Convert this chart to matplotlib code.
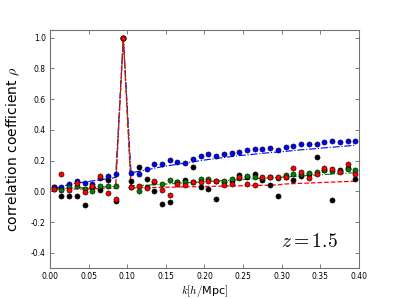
import numpy as np
import matplotlib
matplotlib.use('Agg')
import matplotlib.pyplot as plt

plt.rcParams['mathtext.fontset'] = 'cm'
plt.rcParams['axes.unicode_minus'] = False

# k bins (centres), h/Mpc
k = np.arange(40) * 0.01 + 0.005

# measured correlation coefficients
rho_black = [0.03, -0.032, -0.028, -0.028, -0.088, 0.03, 0.006, 0.076, -0.06, 1.0,
             0.067, 0.158, 0.082, 0.0, -0.082, -0.067, 0.06, 0.074, 0.158, 0.026,
             0.015, -0.049, 0.06, 0.07, 0.104, 0.09, 0.112, 0.076, 0.039, -0.032,
             0.09, 0.071, 0.102, 0.11, 0.225, 0.14, -0.054, 0.138, 0.15, 0.08]
rho_blue = [0.025, 0.025, 0.048, 0.067, 0.056, 0.05, 0.089, 0.102, 0.11, 1.0,
            0.121, 0.112, 0.145, 0.177, 0.177, 0.203, 0.194, 0.184, 0.21, 0.227,
            0.24, 0.232, 0.24, 0.25, 0.258, 0.27, 0.275, 0.275, 0.281, 0.272,
            0.287, 0.298, 0.305, 0.309, 0.309, 0.32, 0.326, 0.32, 0.33, 0.33]
rho_green = [0.015, 0.006, 0.026, 0.035, 0.017, 0.0, 0.032, 0.032, 0.037, 1.0,
             0.03, 0.005, 0.03, 0.06, 0.05, 0.074, 0.058, 0.06, 0.058, 0.08,
             0.078, 0.07, 0.069, 0.08, 0.087, 0.1, 0.091, 0.088, 0.09, 0.088,
             0.104, 0.112, 0.11, 0.121, 0.125, 0.136, 0.13, 0.13, 0.143, 0.14]
rho_red = [0.015, 0.11, 0.006, 0.056, -0.004, 0.037, 0.102, -0.008, -0.047, 1.0,
           0.026, 0.032, 0.02, 0.067, 0.006, -0.021, 0.05, 0.041, 0.058, 0.058,
           0.065, 0.065, 0.041, 0.05, 0.093, 0.05, 0.043, 0.093, 0.093, 0.093,
           0.095, 0.151, 0.128, 0.084, 0.113, 0.151, 0.143, 0.126, 0.175, 0.115]

# model curves
model_blue = [0.02, 0.03, 0.045, 0.055, 0.06, 0.068, 0.075, 0.082, 0.09, 1.0,
              0.12, 0.13, 0.14, 0.15, 0.16, 0.168, 0.176, 0.184, 0.192, 0.2,
              0.207, 0.213, 0.22, 0.226, 0.232, 0.237, 0.242, 0.247, 0.252, 0.256,
              0.26, 0.265, 0.27, 0.274, 0.278, 0.283, 0.287, 0.291, 0.295, 0.3]
model_green = [0.015, 0.018, 0.02, 0.022, 0.024, 0.026, 0.028, 0.03, 0.032, 1.0,
               0.036, 0.038, 0.04, 0.043, 0.046, 0.049, 0.052, 0.055, 0.058, 0.061,
               0.064, 0.067, 0.07, 0.073, 0.076, 0.079, 0.082, 0.085, 0.088, 0.091,
               0.094, 0.097, 0.1, 0.103, 0.106, 0.109, 0.112, 0.115, 0.118, 0.121]
model_red = [0.012, 0.013, 0.014, 0.015, 0.016, 0.017, 0.018, 0.019, 0.02, 1.0,
             0.022, 0.023, 0.024, 0.025, 0.026, 0.027, 0.028, 0.029, 0.03, 0.031,
             0.032, 0.033, 0.034, 0.035, 0.036, 0.037, 0.038, 0.039, 0.04, 0.042,
             0.048, 0.05, 0.052, 0.054, 0.056, 0.058, 0.06, 0.062, 0.064, 0.066]

fig, ax = plt.subplots(figsize=(3.99, 2.99), dpi=100)
fig.subplots_adjust(left=0.125, right=0.9, bottom=0.103, top=0.9)

ax.plot(k, model_blue, '-.', color='b', lw=0.8, zorder=1)
ax.plot(k, model_green, '-.', color='g', lw=0.8, zorder=1)
ax.plot(k, model_red, '--', color='r', lw=0.9, zorder=1)

for vals, c in [(rho_black, 'k'), (rho_blue, 'b'), (rho_green, 'g'), (rho_red, 'r')]:
    ax.plot(k, vals, 'o', color=c, ms=3.7, mec='k', mew=0.4, zorder=2)

ax.set_xlim(0, 0.4)
ax.set_ylim(-0.5, 1.05)
ax.set_xticks(np.arange(0, 0.41, 0.05))
ax.set_yticks(np.arange(-0.4, 1.01, 0.2))
ax.set_xticklabels(['%.2f' % t for t in np.arange(0, 0.41, 0.05)])
ax.set_yticklabels(['%.1f' % t for t in np.arange(-0.4, 1.01, 0.2)])
ax.tick_params(direction='in', top=True, right=True, labelsize=5.5,
               length=3, width=0.6, color='0.4', pad=3)
for s in ax.spines.values():
    s.set_color('0.45')

ax.set_xlabel(r'$k[h/$Mpc$]$', fontsize=8, labelpad=1)
ax.set_ylabel(r'correlation coefficient $\rho$', fontsize=10, labelpad=6)
ax.text(0.93, 0.09, r'$z=1.5$', transform=ax.transAxes, ha='right',
        va='baseline', fontsize=14)

fig.savefig('out.png', dpi=100)
